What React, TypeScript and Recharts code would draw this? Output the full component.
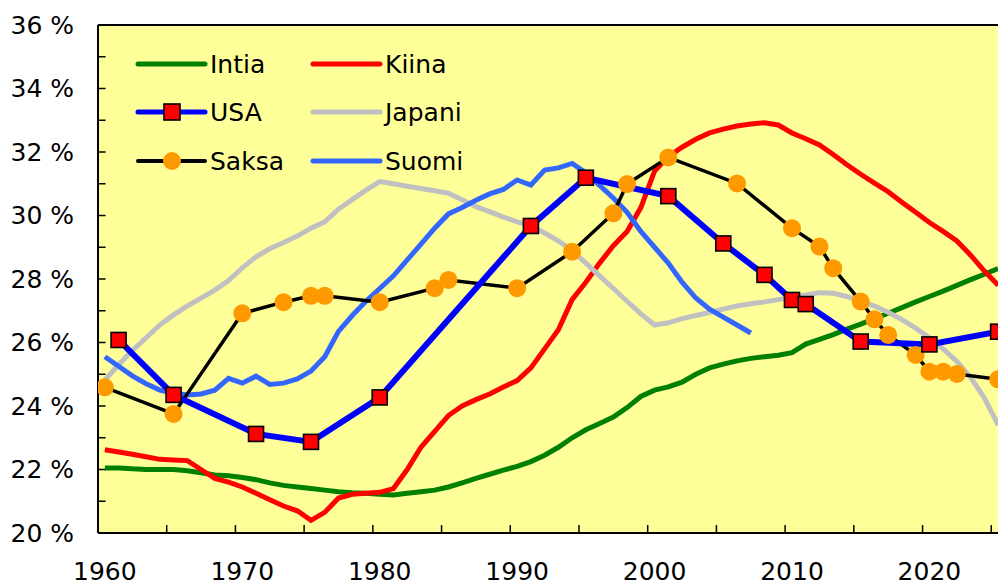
import React from 'react';
import { LineChart, Line, XAxis, YAxis, CartesianGrid, ReferenceLine } from 'recharts';

// ---- categories ----
const years = [
  1960, 1961, 1962, 1963, 1964, 1965, 1966, 1967, 1968, 1969,
  1970, 1971, 1972, 1973, 1974, 1975, 1976, 1977, 1978, 1979,
  1980, 1981, 1982, 1983, 1984, 1985, 1986, 1987, 1988, 1989,
  1990, 1991, 1992, 1993, 1994, 1995, 1996, 1997, 1998, 1999,
  2000, 2001, 2002, 2003, 2004, 2005, 2006, 2007, 2008, 2009,
  2010, 2011, 2012, 2013, 2014, 2015, 2016, 2017, 2018, 2019,
  2020, 2021, 2022, 2023, 2024, 2025,
];

// ---- annual series (%) ----
const intia = [
  22.05, 22.05, 22.02, 22.0, 22.0, 22.0, 21.96, 21.9, 21.83, 21.8,
  21.75, 21.68, 21.58, 21.5, 21.45, 21.4, 21.35, 21.3, 21.27, 21.25,
  21.22, 21.2, 21.25, 21.3, 21.35, 21.45, 21.58, 21.72, 21.85, 21.98,
  22.1, 22.25, 22.45, 22.7, 23.0, 23.25, 23.45, 23.65, 23.95, 24.3,
  24.5, 24.6, 24.75, 25.0, 25.2, 25.32, 25.42, 25.5, 25.55, 25.6,
  25.68, 25.95, 26.1, 26.25, 26.42, 26.58, 26.75, 26.92, 27.1, 27.28,
  27.45, 27.62, 27.8, 27.98, 28.15, 28.33,
];
const kiina = [
  22.62, 22.55, 22.48, 22.4, 22.32, 22.3, 22.28, 22.0, 21.72, 21.6,
  21.45, 21.25, 21.05, 20.85, 20.7, 20.4, 20.65, 21.1, 21.22, 21.25,
  21.28, 21.4, 22.0, 22.7, 23.2, 23.7, 24.0, 24.2, 24.38, 24.6,
  24.8, 25.2, 25.8, 26.4, 27.35, 27.9, 28.5, 29.05, 29.5, 30.25,
  31.4, 31.85, 32.15, 32.4, 32.6, 32.72, 32.82, 32.88, 32.92, 32.85,
  32.6, 32.42, 32.22, 31.92, 31.6, 31.3, 31.02, 30.75, 30.42, 30.1,
  29.78, 29.5, 29.2, 28.75, 28.25, 27.8,
];
const japani = [
  24.82, 25.3, 25.75, 26.15, 26.55, 26.87, 27.15, 27.4, 27.65, 27.95,
  28.35, 28.7, 28.95, 29.15, 29.35, 29.6, 29.8, 30.2, 30.5, 30.8,
  31.07, 31.0, 30.92, 30.85, 30.78, 30.7, 30.5, 30.28, 30.12, 29.95,
  29.8, 29.68, 29.45, 29.2, 28.9, 28.5, 28.1, 27.7, 27.3, 26.9,
  26.55, 26.62, 26.75, 26.85, 26.95, 27.05, 27.15, 27.22, 27.28, 27.35,
  27.42, 27.5, 27.57, 27.55, 27.45, 27.3, 27.15, 26.95, 26.72, 26.45,
  26.15, 25.8, 25.4, 24.9, 24.25, 23.4,
];
// Suomi: 1960 - 2007
const suomi = [
  25.55, 25.25, 24.95, 24.7, 24.5, 24.4, 24.35, 24.38, 24.5, 24.87,
  24.72, 24.94, 24.68, 24.72, 24.85, 25.1, 25.55, 26.35, 26.85, 27.3,
  27.7, 28.1, 28.6, 29.1, 29.6, 30.05, 30.25, 30.48, 30.68, 30.82,
  31.12, 30.96, 31.43, 31.5, 31.64, 31.35, 30.95, 30.55, 30.1, 29.5,
  29.0, 28.5, 27.9, 27.4, 27.05, 26.8, 26.55, 26.3,
];

// ---- sparse series (marker points) ----
const usaYears = [1961, 1965, 1971, 1975, 1980, 1991, 1995, 2001, 2005, 2008, 2010, 2011, 2015, 2020, 2025];
const usaValues = [26.08, 24.35, 23.12, 22.87, 24.27, 29.67, 31.19, 30.61, 29.12, 28.13, 27.34, 27.21, 26.03, 25.94, 26.34];

const saksaYears = [1960, 1965, 1970, 1973, 1975, 1976, 1980, 1984, 1985, 1990, 1994, 1997, 1998, 2001, 2006, 2010, 2012, 2013, 2015, 2016, 2017, 2019, 2020, 2021, 2022, 2025];
const saksaValues = [24.59, 23.75, 26.92, 27.27, 27.47, 27.47, 27.27, 27.71, 27.97, 27.71, 28.86, 30.07, 30.99, 31.83, 31.01, 29.6, 29.02, 28.34, 27.29, 26.73, 26.24, 25.61, 25.08, 25.08, 25.01, 24.84];

// ---- axis ticks ----
const xLabelYears = [1960, 1970, 1980, 1990, 2000, 2010, 2020];
const xMinorTicks = [1964.5, 1969.5, 1974.5, 1979.5, 1984.5, 1989.5, 1994.5, 1999.5, 2004.5, 2009.5, 2014.5, 2019.5, 2024.5];
const yLabelTicks = [20, 22, 24, 26, 28, 30, 32, 34, 36];
const yMinorTicks = [21, 22, 23, 24, 25, 26, 27, 28, 29, 30, 31, 32, 33, 34, 35];

const FONT = '"DejaVu Sans", Verdana, sans-serif';

const data = years.map((year, i) => {
  const ui = usaYears.indexOf(year);
  const si = saksaYears.indexOf(year);
  return {
    year,
    intia: intia[i],
    kiina: kiina[i],
    japani: japani[i],
    suomi: i < suomi.length ? suomi[i] : null,
    usa: ui >= 0 ? usaValues[ui] : null,
    saksa: si >= 0 ? saksaValues[si] : null,
  };
});

const UsaDot = (props: any) => {
  const { cx, cy, value, index } = props;
  if (cx == null || cy == null || value == null || Number.isNaN(cy)) return <g key={`u-${index}`} />;
  return (
    <rect key={`u-${index}`} x={cx - 7.5} y={cy - 7.5} width={15} height={15} fill="#FF0000" stroke="#000" strokeWidth={1.6} />
  );
};

const SaksaDot = (props: any) => {
  const { cx, cy, value, index } = props;
  if (cx == null || cy == null || value == null || Number.isNaN(cy)) return <g key={`s-${index}`} />;
  return <circle key={`s-${index}`} cx={cx} cy={cy} r={9} fill="#FF9900" stroke="none" />;
};

const legendItems = [
  { name: 'Intia', color: '#008000', marker: 'none', col: 0, row: 0 },
  { name: 'Kiina', color: '#FF0000', marker: 'none', col: 1, row: 0 },
  { name: 'USA', color: '#0000FF', marker: 'square', col: 0, row: 1 },
  { name: 'Japani', color: '#C0C0C0', marker: 'none', col: 1, row: 1 },
  { name: 'Saksa', color: '#000000', marker: 'circle', col: 0, row: 2 },
  { name: 'Suomi', color: '#3366FF', marker: 'none', col: 1, row: 2 },
];

const LegendOverlay = () => {
  const colX = [138, 313];
  const rowY = [64, 112, 161];
  return (
    <svg width={600} height={200} style={{ position: 'absolute', left: 0, top: 0, pointerEvents: 'none' }}>
      {legendItems.map((it) => {
        const x0 = colX[it.col];
        const y = rowY[it.row];
        const mid = x0 + 34;
        return (
          <g key={it.name}>
            <line x1={x0} y1={y} x2={x0 + 67} y2={y} stroke={it.color} strokeWidth={it.marker === 'circle' ? 4 : 5} strokeLinecap="round" />
            {it.marker === 'square' && (
              <rect x={mid - 8} y={y - 8} width={16} height={16} fill="#FF0000" stroke="#000" strokeWidth={1.6} />
            )}
            {it.marker === 'circle' && <circle cx={mid} cy={y} r={9} fill="#FF9900" />}
            <text x={x0 + 72} y={y} dy="0.36em" fontSize={25} fontFamily={FONT} fill="#000">
              {it.name}
            </text>
          </g>
        );
      })}
    </svg>
  );
};

export default function App() {
  return (
    <div style={{ position: 'fixed', left: 0, top: 0, width: 998, height: 588, overflow: 'hidden', background: '#fff' }}>
      <LineChart width={1005} height={588} data={data} margin={{ top: 25, right: 0, bottom: 0, left: 0 }}>
        <CartesianGrid horizontal={false} vertical={false} fill="#FFFF99" stroke="none" />
        <XAxis
          dataKey="year"
          type="number"
          domain={[1959.5, 2025.5]}
          ticks={xLabelYears}
          interval={0}
          allowDataOverflow
          tickLine={false}
          tickSize={6}
          tickMargin={23}
          height={55}
          axisLine={{ stroke: '#000', strokeWidth: 2 }}
          tick={{ fill: '#000', fontSize: 25, fontFamily: FONT }}
        />
        <YAxis
          type="number"
          domain={[20, 36]}
          ticks={yLabelTicks}
          interval={0}
          allowDataOverflow
          width={98}
          tickLine={false}
          tickSize={6}
          tickMargin={18}
          axisLine={{ stroke: '#000', strokeWidth: 2 }}
          tick={{ fill: '#000', fontSize: 25, fontFamily: FONT }}
          tickFormatter={(v: number) => `${v} %`}
        />
        <ReferenceLine y={36} stroke="#000" strokeWidth={2} />
        {xMinorTicks.map((t) => (
          <ReferenceLine key={`xt-${t}`} segment={[{ x: t, y: 20 }, { x: t, y: 20.25 }]} stroke="#000" strokeWidth={1.5} />
        ))}
        {yMinorTicks.map((t) => (
          <ReferenceLine key={`yt-${t}`} segment={[{ x: 1959.5, y: t }, { x: 1960.05, y: t }]} stroke="#000" strokeWidth={1.5} />
        ))}
        <Line type="linear" dataKey="intia" stroke="#008000" strokeWidth={5} dot={false} isAnimationActive={false} />
        <Line type="linear" dataKey="kiina" stroke="#FF0000" strokeWidth={5} dot={false} isAnimationActive={false} />
        <Line type="linear" dataKey="japani" stroke="#C0C0C0" strokeWidth={5} dot={false} isAnimationActive={false} />
        <Line type="linear" dataKey="suomi" stroke="#3366FF" strokeWidth={5} dot={false} isAnimationActive={false} />
        <Line type="linear" dataKey="saksa" stroke="#000000" strokeWidth={3.5} connectNulls dot={SaksaDot} activeDot={false} isAnimationActive={false} />
        <Line type="linear" dataKey="usa" stroke="#0000FF" strokeWidth={6} connectNulls dot={UsaDot} activeDot={false} isAnimationActive={false} />
      </LineChart>
      <LegendOverlay />
    </div>
  );
}
